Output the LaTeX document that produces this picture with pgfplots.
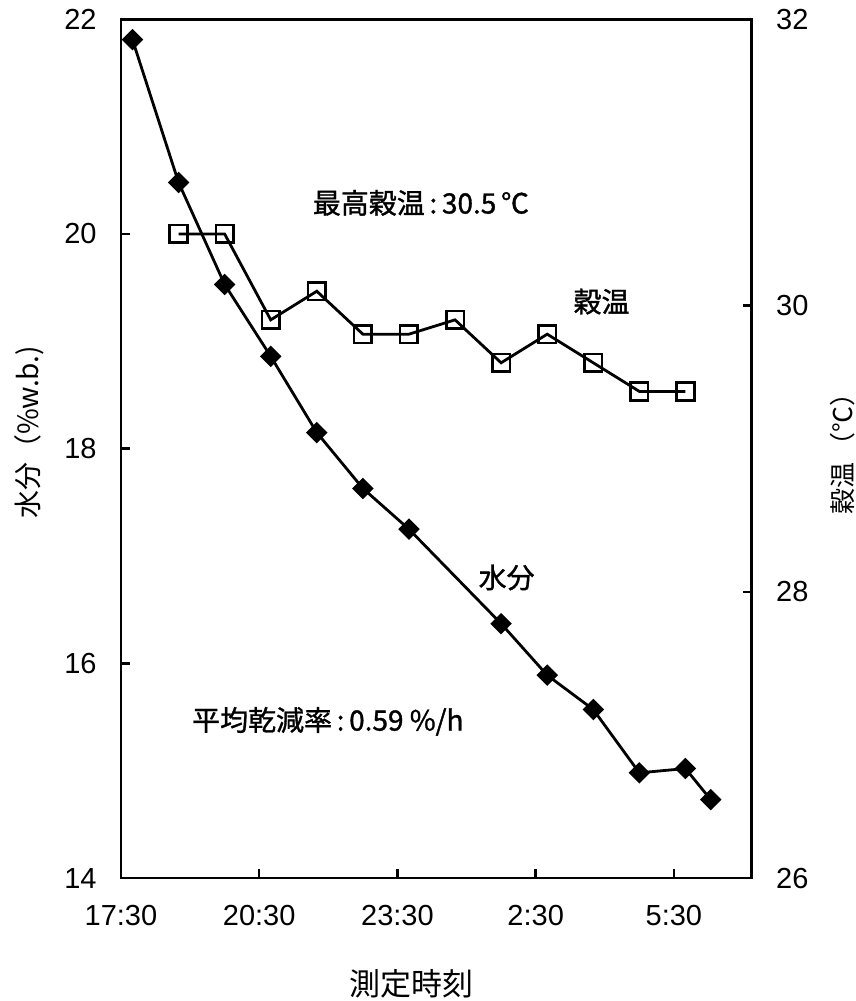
\documentclass[border=0pt]{standalone}
\usepackage{fontspec}
\setmainfont{Liberation Sans}
\newfontfamily\cjk{Noto Sans CJK JP}
\newfontfamily\cjkb{Noto Sans CJK JP}[FakeBold=1.2]
\usepackage{pgfplots}
\pgfplotsset{compat=1.18}
\begin{document}
\begin{tikzpicture}
\useasboundingbox (-60.5pt,-61.5pt) rectangle (367.5pt,439.15pt);
\pgfplotsset{
  common/.style={
    scale only axis, width=315.5pt, height=429.5pt,
    at={(0,0)}, anchor=south west,
    xmin=0, xmax=13.69,
    tick align=inside, major tick length=4.5pt,
    axis line style={line width=1.3pt},
    every tick/.style={line width=1.2pt, black},
    tick label style={font=\fontsize{14.5}{16}\selectfont, inner sep=0pt},
    /pgf/number format/assume math mode=true,
    clip=false,
  }
}
\begin{axis}[common,
  ymin=14, ymax=22, ytick={14,16,18,20,22},
  xtick={0,3,6,9,12},
  xticklabels={17:30,20:30,23:30,2:30,5:30},
  xtick pos=bottom, ytick pos=left,
  yticklabel style={anchor=east, xshift=-12pt},
  xticklabel style={anchor=north, yshift=-13.5pt},
  ylabel={\cjk\fontsize{14}{16}\selectfont 水分（\%w.b.)},
  ylabel style={at={(axis description cs:-0.1458,0.519)}, anchor=center},
  xlabel={\cjk\fontsize{15.5}{17}\selectfont 測定時刻},
  xlabel style={at={(axis description cs:0.4612,-0.1234)}, anchor=center},
]
\addplot[black, line width=1.4pt, mark=square*, mark size=3.1pt,
  mark options={rotate=45, solid, fill=black}] coordinates {
  (0.25,21.81) (1.25,20.48) (2.25,19.53) (3.25,18.86) (4.25,18.15)
  (5.25,17.63) (6.25,17.25) (8.25,16.37) (9.25,15.89) (10.25,15.57)
  (11.25,14.98) (12.25,15.02) (12.8,14.73)
};
\node[font=\cjkb\fontsize{14}{16}\selectfont, anchor=center] at (axis cs:6.51,20.29) {最高穀温\,:\,30.5\,℃};
\node[font=\cjkb\fontsize{14}{16}\selectfont, anchor=center] at (axis cs:4.49,15.46) {平均乾減率\,:\,0.59 \%/h};
\node[font=\cjkb\fontsize{14}{16}\selectfont, anchor=center] at (axis cs:10.43,19.37) {穀温};
\node[font=\cjkb\fontsize{14}{16}\selectfont, anchor=center] at (axis cs:8.37,16.80) {水分};
\end{axis}
\begin{axis}[common,
  ymin=26, ymax=32, ytick={26,28,30,32},
  axis y line*=right, axis x line=none,
  yticklabel style={anchor=west, xshift=12pt},
  ylabel={\cjk\fontsize{13}{15}\selectfont 穀温\,（℃）},
  ylabel style={at={(axis description cs:1.1442,0.5017)}, anchor=center},
]
\addplot[black, line width=1.4pt, mark=square, mark size=4.4pt,
  mark options={solid, fill=white, line width=1.3pt}] coordinates {
  (1.25,30.5) (2.25,30.5) (3.25,29.9) (4.25,30.1) (5.25,29.8) (6.25,29.8)
  (7.25,29.9) (8.25,29.6) (9.25,29.8) (10.25,29.6) (11.25,29.4) (12.25,29.4)
};
\end{axis}
\end{tikzpicture}
\end{document}
